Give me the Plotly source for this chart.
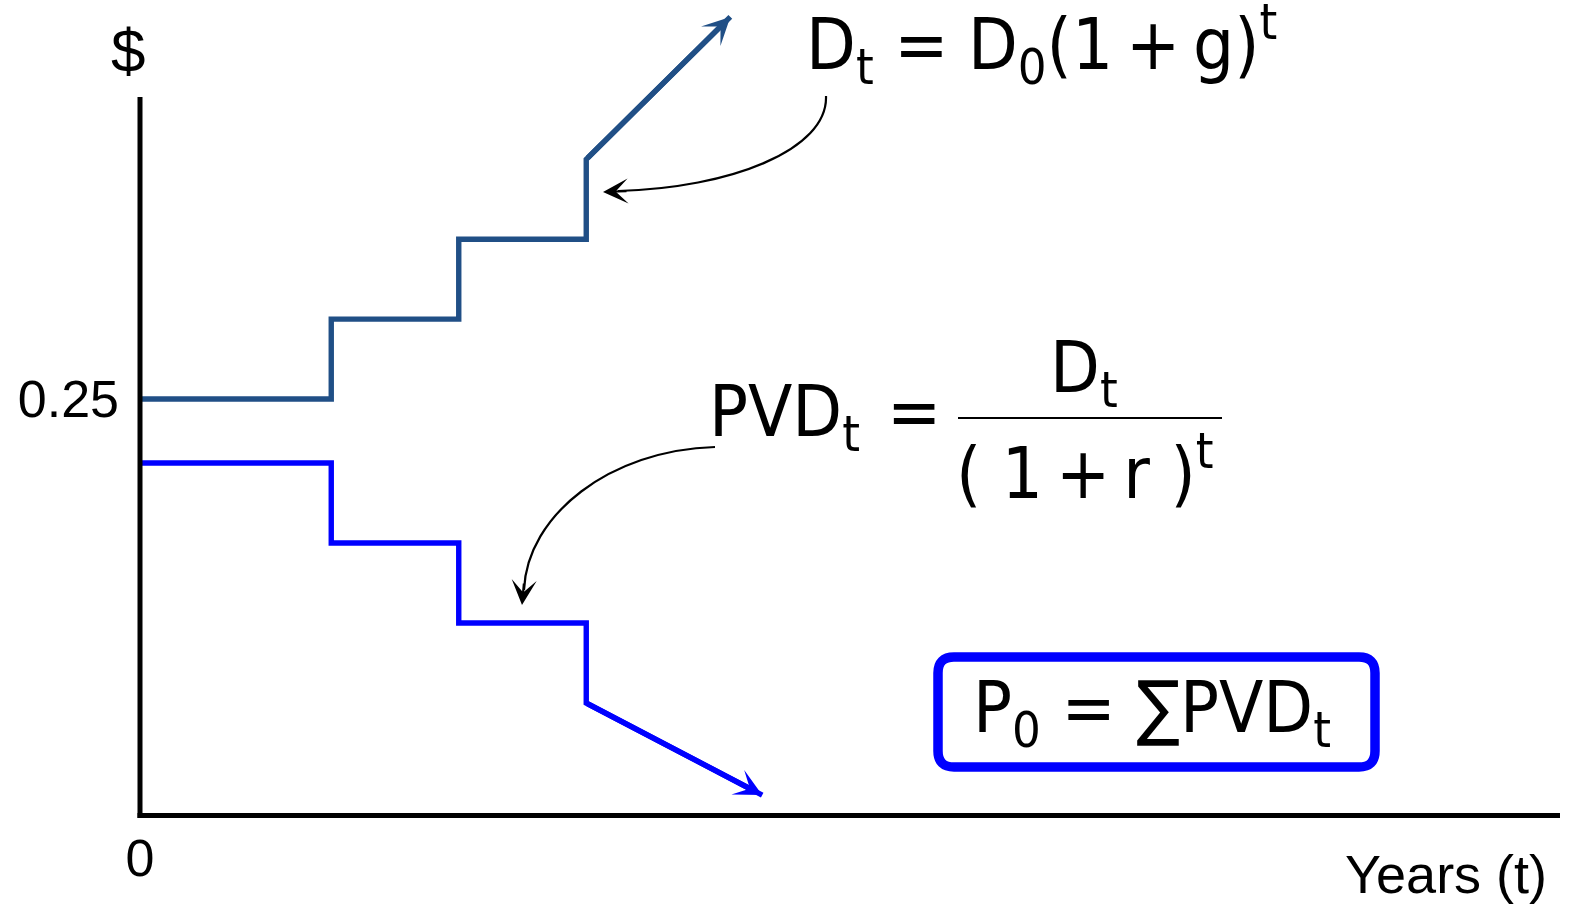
import plotly.graph_objects as go

# ---------------- data ----------------
years = [0, 1.5, 2.5, 3.5, 4.63]
dividends = [0.25, 0.298, 0.346, 0.394, 0.4796]
years_pv = [0, 1.5, 2.5, 3.5, 4.88]
pv_dividends = [0.2115, 0.1635, 0.1154, 0.0673, 0.012]
x_tick_vals = [0]
x_tick_text = ["0"]
y_tick_vals = [0.25]
y_tick_text = ["0.25"]

# ---------------- geometry helpers ----------------
W, H = 1571, 904
L, R, T, B = 140, 11, 0, 89
PX_PER_YEAR = 127.5
PX_PER_DOLLAR = 1664.0
XMAX = (W - R - L) / PX_PER_YEAR
YMAX = (H - B - T) / PX_PER_DOLLAR


def px2x(px):
    return (px - L) / PX_PER_YEAR


def px2y(py):
    return (H - B - py) / PX_PER_DOLLAR


def pxp(px):
    return (px - L) / (W - L - R)


def pyp(py):
    return (H - B - py) / (H - B - T)


def P(px, py):
    return f"{px2x(px):.5f},{px2y(py):.5f}"


def steps(x, y):
    xs, ys = [x[0]], [y[0]]
    for i in range(1, len(x) - 1):
        xs += [x[i], x[i]]
        ys += [y[i - 1], y[i]]
    xs.append(x[-1])
    ys.append(y[-1])
    return xs, ys


DARK = "#204F86"
BLUE = "#0000FF"
MATH_FONT = "DejaVu Sans Condensed, DejaVu Sans, sans-serif"
AX_FONT = "Liberation Sans, Arial, sans-serif"
LW = 5.4

fig = go.Figure()

sx, sy = steps(years, dividends)
fig.add_trace(go.Scatter(x=sx, y=sy, mode="lines", cliponaxis=False,
                         line=dict(color=DARK, width=LW), hoverinfo="skip"))
px_, py_ = steps(years_pv, pv_dividends)
fig.add_trace(go.Scatter(x=px_, y=py_, mode="lines", cliponaxis=False,
                         line=dict(color=BLUE, width=LW), hoverinfo="skip"))

annotations = []
# arrow heads at end of the step lines
for xs_, ys_, col in ((years, dividends, DARK), (years_pv, pv_dividends, BLUE)):
    annotations.append(dict(x=xs_[-1], y=ys_[-1], ax=xs_[-2], ay=ys_[-2],
                            xref="x", yref="y", axref="x", ayref="y",
                            text="", showarrow=True, arrowhead=3, arrowsize=0.85,
                            arrowwidth=LW, arrowcolor=col))

shapes = []
# axes (paper-referenced so they are not clipped at the plot edge)
shapes.append(dict(type="line", xref="paper", yref="paper", x0=pxp(140), x1=pxp(140),
                   y0=pyp(97), y1=pyp(818), line=dict(color="black", width=5)))
shapes.append(dict(type="line", xref="paper", yref="paper", x0=pxp(137.5), x1=pxp(1560),
                   y0=pyp(815.5), y1=pyp(815.5), line=dict(color="black", width=5)))

# curved pointer arrows
shapes.append(dict(type="path", xref="x", yref="y",
                   path=f"M{P(826, 96)} C{P(828, 150)} {P(730, 188)} {P(618, 191)}",
                   line=dict(color="black", width=2.2)))
annotations.append(dict(x=px2x(603), y=px2y(192), ax=px2x(628), ay=px2y(191),
                        xref="x", yref="y", axref="x", ayref="y", text="",
                        showarrow=True, arrowhead=3, arrowsize=1.9, arrowwidth=2.2,
                        arrowcolor="black"))
shapes.append(dict(type="path", xref="x", yref="y",
                   path=f"M{P(715, 447)} C{P(610, 450)} {P(527, 515)} {P(524, 590)}",
                   line=dict(color="black", width=2.2)))
annotations.append(dict(x=px2x(522), y=px2y(605), ax=px2x(524), ay=px2y(582),
                        xref="x", yref="y", axref="x", ayref="y", text="",
                        showarrow=True, arrowhead=3, arrowsize=1.9, arrowwidth=2.2,
                        arrowcolor="black"))

# fraction bar
shapes.append(dict(type="line", xref="x", yref="y", x0=px2x(958), x1=px2x(1222),
                   y0=px2y(418), y1=px2y(418), line=dict(color="black", width=2)))

# rounded box
x0, y0, x1, y1, r = 938, 657, 1375, 767, 16
box = (f"M{P(x0 + r, y0)} L{P(x1 - r, y0)} Q{P(x1, y0)} {P(x1, y0 + r)} "
       f"L{P(x1, y1 - r)} Q{P(x1, y1)} {P(x1 - r, y1)} L{P(x0 + r, y1)} "
       f"Q{P(x0, y1)} {P(x0, y1 - r)} L{P(x0, y0 + r)} Q{P(x0, y0)} {P(x0 + r, y0)} Z")
shapes.append(dict(type="path", xref="x", yref="y", path=box,
                   line=dict(color=BLUE, width=9.5)))

mf = dict(family=MATH_FONT, size=72, color="black")


def text_ann(txt, x, y, xanchor="left", yanchor="middle", font=mf):
    return dict(x=px2x(x), y=px2y(y), xref="x", yref="y", text=txt,
                showarrow=False, xanchor=xanchor, yanchor=yanchor, font=font)


HS = "\u200a"   # hair space
TS = "\u2009"   # thin space
annotations.append(text_ann(
    f"D<sub>t</sub> ={TS}{HS}D<sub>0</sub>(1{HS}{HS}+{HS}{HS}g)<sup>t</sup>", 804, 44))
annotations.append(text_ann(f"PVD<sub>t</sub> {HS}=", 707, 416))
annotations.append(text_ann("D<sub>t</sub>", 1084, 372, xanchor="center"))
annotations.append(text_ann(f"( 1{TS}+{TS}r )<sup>t</sup>", 1084, 468, xanchor="center"))
annotations.append(text_ann("P<sub>0</sub> = \u2211PVD<sub>t</sub>", 971, 712))

af = dict(family=AX_FONT, size=52, color="black")
annotations.append(dict(x=pxp(128), y=pyp(51), xref="paper", yref="paper",
                        text="$", showarrow=False, xanchor="center", yanchor="middle",
                        font=dict(family=AX_FONT, size=62, color="black")))
annotations.append(dict(x=pxp(1549), y=pyp(874), xref="paper",
                        yref="paper", text="Years (t)", showarrow=False,
                        xanchor="right", yanchor="middle",
                        font=dict(family=AX_FONT, size=54, color="black")))

fig.update_layout(
    width=W, height=H,
    margin=dict(l=L, r=R, t=T, b=B, pad=0),
    paper_bgcolor="white", plot_bgcolor="white",
    showlegend=False,
    xaxis=dict(range=[0, XMAX], showgrid=False, zeroline=False, showline=False,
               tickvals=x_tick_vals, ticktext=x_tick_text, ticks="",
               tickfont=af, ticklabelstandoff=8, fixedrange=True),
    yaxis=dict(range=[0, YMAX], showgrid=False, zeroline=False, showline=False,
               tickvals=y_tick_vals, ticktext=y_tick_text, ticks="",
               tickfont=af, ticklabelstandoff=20, fixedrange=True),
    shapes=shapes, annotations=annotations,
)

fig.write_html("out.html", config={"displayModeBar": False},
               post_script="document.body.style.margin='0';document.body.style.overflow='hidden';")
